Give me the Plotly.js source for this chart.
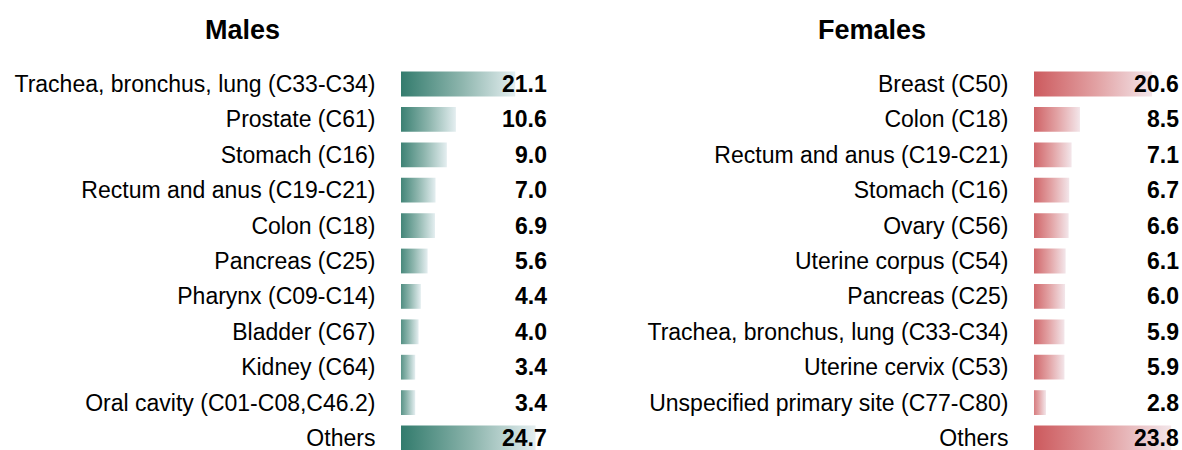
<!DOCTYPE html>
<html>
<head>
<meta charset="utf-8">
<script src="https://cdn.plot.ly/plotly-3.0.1.min.js"></script>
<style>html,body{margin:0;padding:0;background:#fff;}#chart{width:1182px;height:450px;}</style>
</head>
<body>
<div id="chart"></div>
<script>
const maleSites = ["Trachea, bronchus, lung (C33-C34)","Prostate (C61)","Stomach (C16)","Rectum and anus (C19-C21)","Colon (C18)","Pancreas (C25)","Pharynx (C09-C14)","Bladder (C67)","Kidney (C64)","Oral cavity (C01-C08,C46.2)","Others"];
const maleValues = [21.1,10.6,9.0,7.0,6.9,5.6,4.4,4.0,3.4,3.4,24.7];
const femaleSites = ["Breast (C50)","Colon (C18)","Rectum and anus (C19-C21)","Stomach (C16)","Ovary (C56)","Uterine corpus (C54)","Pancreas (C25)","Trachea, bronchus, lung (C33-C34)","Uterine cervix (C53)","Unspecified primary site (C77-C80)","Others"];
const femaleValues = [20.6,8.5,7.1,6.7,6.6,6.1,6.0,5.9,5.9,2.8,23.8];
const panelTitles = ["Males","Females"];

const W = 1182, H = 450;
const FONT = 'Liberation Sans, Arial, sans-serif';
const halfH = 0.35;
const maleScale = [[0,'#2c7768'],[0.55,'#8db5ad'],[1,'#e4eef0']];
const femaleScale = [[0,'#cb5559'],[0.55,'#e2a2a4'],[1,'#f3e6ea']];

const traces = [];
function addBars(values, xa, ya, cs){
  values.forEach((v,i)=>{
    traces.push({
      type:'scatter', mode:'lines', xaxis:xa, yaxis:ya,
      x:[0, v, v, 0, 0],
      y:[i-halfH, i-halfH, i+halfH, i+halfH, i-halfH],
      fill:'toself', line:{width:0, color:'rgba(0,0,0,0)'},
      fillgradient:{type:'horizontal', colorscale:cs},
      hoverinfo:'skip', showlegend:false
    });
  });
}
addBars(maleValues,'x','y',maleScale);
addBars(femaleValues,'x2','y2',femaleScale);

const annotations = [];
function addVals(values, ya, xpx){
  values.forEach((v,i)=>{
    annotations.push({xref:'paper', yref:ya, x:xpx/W, y:i, xanchor:'right', yanchor:'middle', borderpad:0,
      text:v.toFixed(1), showarrow:false, font:{family:FONT, size:23, color:'#000', weight:'bold'}});
  });
}
addVals(maleValues,'y',548);
addVals(femaleValues,'y2',1180);
annotations.push({xref:'paper', yref:'paper', x:242/W, y:1-30/H, xanchor:'center', yanchor:'middle', text:panelTitles[0], showarrow:false, font:{family:FONT, size:27, color:'#000', weight:'bold'}});
annotations.push({xref:'paper', yref:'paper', x:872/W, y:1-30/H, xanchor:'center', yanchor:'middle', text:panelTitles[1], showarrow:false, font:{family:FONT, size:27, color:'#000', weight:'bold'}});

const yRange = [10.339, -0.678];
const yDomain = [0, (H-60)/H];
function yax(labels, xa){
  return {domain:yDomain, range:yRange, anchor:xa, tickmode:'array', tickvals:labels.map((_,i)=>i), ticktext:labels,
    showgrid:false, zeroline:false, showline:false, ticks:'outside', ticklen:20, tickcolor:'rgba(0,0,0,0)',
    ticklabeloverflow:'allow',
    tickfont:{family:FONT, size:23, color:'#000'}, fixedrange:true};
}
const layout = {
  width:W, height:H, margin:{l:0,r:0,t:0,b:0}, paper_bgcolor:'#fff', plot_bgcolor:'rgba(0,0,0,0)',
  showlegend:false,
  xaxis:{domain:[401/W, 552/W], range:[0.885, 0.885+151/5.65], visible:false, fixedrange:true},
  yaxis:yax(maleSites,'x'),
  xaxis2:{domain:[1034/W, 1181/W], range:[0.79, 0.79+147/5.96], visible:false, fixedrange:true},
  yaxis2:yax(femaleSites,'x2'),
  annotations:annotations
};
Plotly.newPlot('chart', traces, layout, {staticPlot:true, displayModeBar:false});
</script>
</body>
</html>
